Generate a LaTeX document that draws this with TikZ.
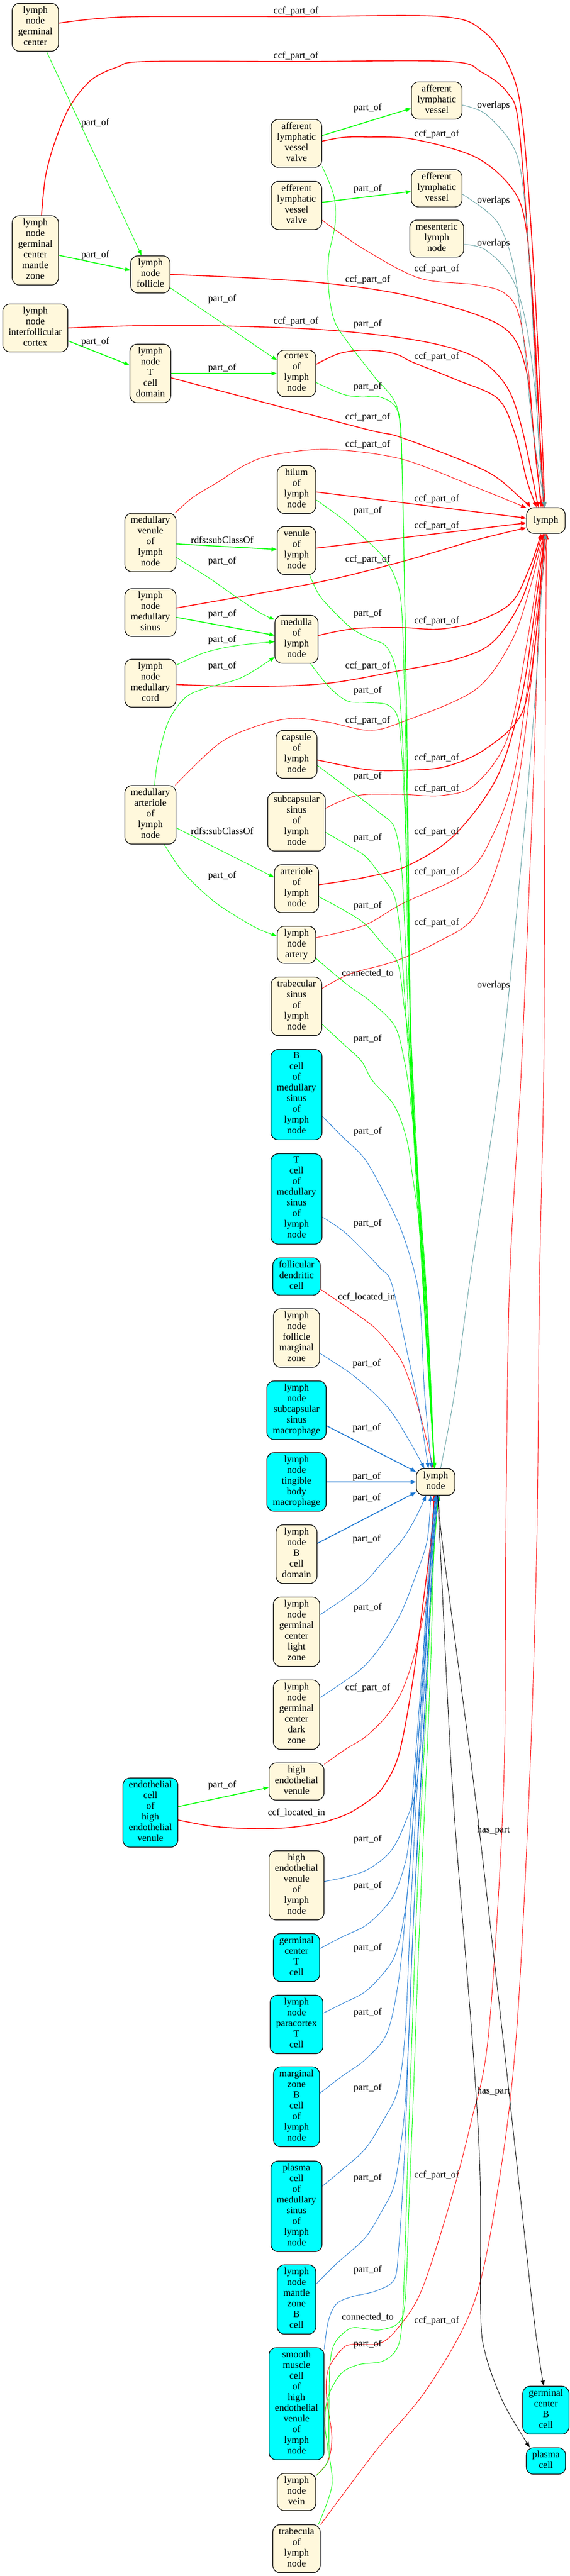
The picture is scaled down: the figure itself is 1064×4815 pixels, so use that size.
\documentclass[tikz,border=0pt]{standalone}
\usepackage{fontspec}
\setmainfont{Liberation Serif}
\usetikzlibrary{arrows.meta}
\newcommand\nodefnt{\fontsize{13.6}{15}\selectfont}
\definecolor{nbeige}{HTML}{FFF8DC}
\definecolor{ncyan}{HTML}{00FFFF}
\definecolor{ered}{HTML}{FF0000}
\definecolor{egreen}{HTML}{00FF00}
\definecolor{eblue}{HTML}{1E78D2}
\definecolor{eteal}{HTML}{5F9EA0}
\pgfdeclarelayer{bg}
\pgfsetlayers{bg,main}
\tikzset{
  box/.style={draw=black, line width=0.9pt, rounded corners=10pt, align=center, font=\nodefnt,
    inner xsep=8.25pt, inner ysep=4.1pt, minimum width=54pt, minimum height=36pt, fill=nbeige,
    execute at begin node=\strut, execute at end node=\strut},
  cbox/.style={box, fill=ncyan},
  lbl/.style={font=\nodefnt, inner sep=0pt},
  tipa/.style={-{Triangle[length=7.5pt,width=5.5pt]}},
  thk/.style={line width=1.2pt},
  rd/.style={draw=ered, line width=0.7pt, tipa},
  gn/.style={draw=egreen, line width=0.7pt, tipa},
  bl/.style={draw=eblue, line width=0.7pt, tipa},
  tl/.style={draw=eteal, line width=0.7pt, tipa},
  bk/.style={draw=black, line width=0.7pt, tipa},
  sm/.style={smooth, tension=0.55}
}
\begin{document}
\begin{tikzpicture}[x=0.75pt,y=0.75pt]
\useasboundingbox (0,0) rectangle (1064,-4815);
\begin{pgfonlayer}{bg}
\fill[white] (0,0) rectangle (1064,-4815);
\end{pgfonlayer}
% ---------- nodes ----------
\node[box] (gc) at (66,-51) {lymph\\node\\germinal\\center};
\node[box] (gcmz) at (66,-468) {lymph\\node\\germinal\\center\\mantle\\zone};
\node[box] (ific) at (66,-613) {lymph\\node\\interfollicular\\cortex};
\node[box] (foll) at (281,-513) {lymph\\node\\follicle};
\node[box] (tcd) at (281,-698) {lymph\\node\\T\\cell\\domain};
\node[box] (mven) at (281,-1014) {medullary\\venule\\of\\lymph\\node};
\node[box] (msin) at (281,-1145) {lymph\\node\\medullary\\sinus};
\node[box] (mcord) at (281,-1277) {lymph\\node\\medullary\\cord};
\node[box] (mart) at (281,-1523) {medullary\\arteriole\\of\\lymph\\node};
\node[cbox] (echev) at (281,-3388) {endothelial\\cell\\of\\high\\endothelial\\venule};
\node[box] (afv) at (554,-268) {afferent\\lymphatic\\vessel\\valve};
\node[box] (efv) at (554,-384) {efferent\\lymphatic\\vessel\\valve};
\node[box] (cortex) at (554,-698) {cortex\\of\\lymph\\node};
\node[box] (hilum) at (554,-915) {hilum\\of\\lymph\\node};
\node[box] (venule) at (554,-1029) {venule\\of\\lymph\\node};
\node[box] (medulla) at (554,-1195) {medulla\\of\\lymph\\node};
\node[box] (capsule) at (554,-1410) {capsule\\of\\lymph\\node};
\node[box] (scs) at (554,-1536) {subcapsular\\sinus\\of\\lymph\\node};
\node[box] (arteriole) at (554,-1661) {arteriole\\of\\lymph\\node};
\node[box] (artery) at (554,-1766) {lymph\\node\\artery};
\node[box] (trsin) at (554,-1881) {trabecular\\sinus\\of\\lymph\\node};
\node[cbox] (bcms) at (554,-2046) {B\\cell\\of\\medullary\\sinus\\of\\lymph\\node};
\node[cbox] (tcms) at (554,-2241) {T\\cell\\of\\medullary\\sinus\\of\\lymph\\node};
\node[cbox] (fdc) at (554,-2386) {follicular\\dendritic\\cell};
\node[box] (fmz) at (554,-2501) {lymph\\node\\follicle\\marginal\\zone};
\node[cbox] (ssm) at (554,-2636) {lymph\\node\\subcapsular\\sinus\\macrophage};
\node[cbox] (tbm) at (554,-2770) {lymph\\node\\tingible\\body\\macrophage};
\node[box] (bcd) at (554,-2905) {lymph\\node\\B\\cell\\domain};
\node[box] (gcl) at (554,-3050) {lymph\\node\\germinal\\center\\light\\zone};
\node[box] (gcd) at (554,-3205) {lymph\\node\\germinal\\center\\dark\\zone};
\node[box] (hev) at (554,-3330) {high\\endothelial\\venule};
\node[box] (hevln) at (554,-3524) {high\\endothelial\\venule\\of\\lymph\\node};
\node[cbox] (gct) at (554,-3659) {germinal\\center\\T\\cell};
\node[cbox] (pct) at (554,-3784) {lymph\\node\\paracortex\\T\\cell};
\node[cbox] (mzb) at (554,-3938) {marginal\\zone\\B\\cell\\of\\lymph\\node};
\node[cbox] (pcms) at (554,-4124) {plasma\\cell\\of\\medullary\\sinus\\of\\lymph\\node};
\node[cbox] (mzbc) at (554,-4298) {lymph\\node\\mantle\\zone\\B\\cell};
\node[cbox] (smc) at (554,-4493) {smooth\\muscle\\cell\\of\\high\\endothelial\\venule\\of\\lymph\\node};
\node[box] (vein) at (554,-4658) {lymph\\node\\vein};
\node[box] (trab) at (554,-4764) {trabecula\\of\\lymph\\node};
\node[box] (alv) at (816,-188) {afferent\\lymphatic\\vessel};
\node[box] (elv) at (816,-352) {efferent\\lymphatic\\vessel};
\node[box] (mes) at (816,-446) {mesenteric\\lymph\\node};
\node[box] (ln) at (814,-2770) {lymph\\node};
\node[box] (lymph) at (1020,-973) {lymph};
\node[cbox] (gcb) at (1020,-4505) {germinal\\center\\B\\cell};
\node[cbox] (pc) at (1020,-4600) {plasma\\cell};
% ---------- edges ----------
\begin{pgfonlayer}{bg}
% red ccf_part_of to lymph
\draw[rd,thk] plot[sm] coordinates {(gc.10) (180,-35) (273,-31) (553,-31) (825,-31) (905,-60) (955,-133) (977,-233) (997,-500) (1012,-800) (lymph.95)};
\draw[rd,thk] plot[sm] coordinates {(gcmz.80) (85,-330) (102,-267) (130,-200) (170,-150) (220,-125) (273,-115) (553,-115) (839,-115) (900,-135) (948,-173) (969,-233) (990,-500) (1008,-800) (lymph.97)};
\draw[rd,thk] plot[sm] coordinates {(afv.5) (640,-257) (682,-256) (771,-260) (887,-293) (955,-350) (982,-420) (998,-600) (1008,-800) (lymph.100)};
\draw[rd] plot[sm] coordinates {(efv.-30) (682,-467) (784,-520) (887,-532) (941,-547) (969,-587) (988,-700) (1000,-850) (lymph.105)};
\draw[rd,thk] plot[sm] coordinates {(foll.east) (477,-520) (614,-530) (750,-550) (887,-587) (955,-625) (985,-700) (998,-820) (lymph.110)};
\draw[rd,thk] plot[sm] coordinates {(ific.east) (250,-609) (409,-609) (614,-617) (784,-637) (887,-667) (945,-720) (975,-800) (lymph.120)};
\draw[rd,thk] plot[sm] coordinates {(cortex.25) (630,-662) (668,-655) (710,-656) (743,-663) (771,-677) (853,-710) (930,-745) (962,-810) (985,-900) (lymph.125)};
\draw[rd,thk] plot[sm] coordinates {(tcd.-12) (675,-800) (750,-818) (907,-880) (975,-933) (lymph.140)};
\draw[rd] plot[sm] coordinates {(mven.50) (360,-930) (409,-900) (460,-868) (512,-850) (614,-840) (750,-858) (887,-910) (lymph.147)};
\draw[rd,thk] (hilum) -- (lymph);
\draw[rd,thk] (venule) -- (lymph);
\draw[rd,thk] plot[sm] coordinates {(msin.10) (587,-1090) (750,-1050) (887,-1010) (lymph.200)};
\draw[rd,thk] plot[sm] coordinates {(medulla.10) (662,-1175) (750,-1173) (819,-1176) (887,-1163) (955,-1127) (990,-1060) (lymph.-110)};
\draw[rd,thk] plot[sm] coordinates {(mcord.-3) (477,-1283) (614,-1277) (750,-1253) (853,-1232) (921,-1200) (975,-1120) (lymph.-105)};
\draw[rd] plot[sm] coordinates {(mart.50) (409,-1390) (480,-1357) (546,-1343) (614,-1350) (689,-1365) (750,-1350) (887,-1290) (955,-1200) (990,-1100) (lymph.-100)};
\draw[rd,thk] plot[sm] coordinates {(capsule.-15) (682,-1438) (750,-1440) (832,-1433) (907,-1400) (975,-1333) (1000,-1200) (lymph.-95)};
\draw[rd] plot[sm] coordinates {(scs.25) (668,-1487) (750,-1485) (825,-1487) (887,-1467) (948,-1380) (985,-1200) (lymph.-100)};
\draw[rd,thk] plot[sm] coordinates {(arteriole.10) (682,-1640) (764,-1617) (850,-1560) (930,-1450) (975,-1300) (998,-1150) (lymph.-95)};
\draw[rd] plot[sm] coordinates {(artery.20) (680,-1730) (750,-1690) (873,-1630) (921,-1560) (960,-1450) (990,-1250) (lymph.-90)};
\draw[rd] plot[sm] coordinates {(trsin.35) (655,-1820) (737,-1797) (819,-1760) (887,-1713) (935,-1600) (970,-1450) (995,-1250) (lymph.-85)};
\draw[rd] plot[sm] coordinates {(vein.40) (613,-4600) (620,-4553) (610,-4480) (613,-4430) (637,-4393) (657,-4382) (710,-4380) (747,-4347) (788,-4280) (840,-4120) (880,-3967) (913,-3800) (941,-3340) (945,-2880) (952,-2400) (974,-2000) (995,-1500) (1005,-1200) (lymph.-100)};
\draw[rd] plot[sm] coordinates {(trab.45) (703,-4580) (800,-4462) (887,-4300) (934,-4067) (965,-3800) (989,-3340) (1003,-2880) (1008,-2400) (1016,-2000) (1018,-1500) (lymph.-88)};
% red to lymph node
\draw[rd] plot[sm] coordinates {(fdc.-28) (650,-2445) (698,-2480) (730,-2515) (753,-2550) (775,-2610) (791,-2667) (ln.100)};
\draw[rd] plot[sm] coordinates {(hev.32) (645,-3270) (682,-3247) (720,-3210) (750,-3163) (775,-3090) (798,-2980) (806,-2880) (ln.-97)};
\draw[rd,thk] plot[sm] coordinates {(echev.-15) (400,-3414) (477,-3418) (540,-3416) (600,-3407) (650,-3390) (690,-3365) (716,-3340) (745,-3280) (770,-3150) (790,-3000) (805,-2880) (ln.-95)};
% green part_of
\draw[gn,thk] (afv) -- (alv);
\draw[gn,thk] (efv) -- (elv);
\draw[gn] (gc) -- (foll);
\draw[gn,thk] (gcmz) -- (foll);
\draw[gn] (foll) -- (cortex);
\draw[gn,thk] (ific) -- (tcd);
\draw[gn,thk] (tcd) -- (cortex);
\draw[gn,thk] (mven) -- (venule);
\draw[gn] plot[sm] coordinates {(mven.-30) (390,-1080) (443,-1117) (485,-1145) (medulla.138)};
\draw[gn,thk] (msin) -- (medulla);
\draw[gn] plot[sm] coordinates {(mcord.35) (382,-1220) (440,-1207) (medulla.186)};
\draw[gn] plot[sm] coordinates {(mart.82) (295,-1420) (314,-1350) (345,-1305) (382,-1287) (443,-1270) (480,-1250) (medulla.219)};
\draw[gn] (mart) -- (arteriole);
\draw[gn] plot[sm] coordinates {(mart.-65) (334,-1620) (361,-1650) (400,-1685) (437,-1710) (480,-1735) (artery.156)};
\draw[gn,thk] (echev) -- (hev);
% green to lymph node (top)
\draw[gn] plot[sm] coordinates {(afv.-42) (624,-367) (626,-420) (614,-480) (614,-540) (625,-600) (655,-647) (700,-705) (743,-765) (752,-900) (760,-1400) (768,-2000) (790,-2400) (ln.95)};
\draw[gn] plot[sm] coordinates {(cortex.-25) (641,-737) (675,-742) (709,-742) (740,-762) (749,-820) (754,-1000) (761,-1400) (769,-2000) (790,-2400) (ln.95)};
\draw[gn] plot[sm] coordinates {(hilum.-28) (640,-970) (682,-1007) (715,-1040) (737,-1077) (750,-1133) (756,-1300) (762,-1600) (770,-2000) (791,-2400) (ln.95)};
\draw[gn] plot[sm] coordinates {(venule.-62) (595,-1110) (614,-1133) (655,-1173) (690,-1193) (723,-1210) (743,-1267) (753,-1400) (760,-1600) (770,-2000) (791,-2400) (ln.95)};
\draw[gn] plot[sm] coordinates {(medulla.-60) (614,-1283) (648,-1310) (682,-1313) (723,-1317) (743,-1340) (750,-1400) (757,-1533) (763,-1800) (771,-2000) (792,-2400) (ln.95)};
\draw[gn] plot[sm] coordinates {(capsule.-28) (632,-1460) (675,-1493) (710,-1520) (737,-1547) (750,-1620) (757,-1750) (765,-1950) (772,-2100) (793,-2400) (ln.95)};
\draw[gn] plot[sm] coordinates {(scs.-20) (650,-1580) (682,-1600) (709,-1633) (735,-1670) (745,-1720) (752,-1800) (762,-1950) (773,-2100) (794,-2400) (ln.95)};
\draw[gn] plot[sm] coordinates {(arteriole.-20) (640,-1700) (682,-1727) (715,-1765) (743,-1800) (755,-1880) (764,-1950) (774,-2100) (795,-2400) (ln.95)};
\draw[gn] plot[sm] coordinates {(artery.-35) (648,-1840) (690,-1870) (737,-1917) (755,-1980) (766,-2050) (776,-2150) (796,-2400) (ln.95)};
\draw[gn] plot[sm] coordinates {(trsin.-35) (640,-1950) (675,-1983) (696,-2020) (737,-2067) (760,-2130) (771,-2200) (785,-2300) (798,-2450) (ln.95)};
% green to lymph node (bottom)
\draw[gn] plot[sm] coordinates {(vein.40) (613,-4597) (607,-4530) (613,-4480) (637,-4437) (670,-4420) (716,-4413) (743,-4387) (752,-4330) (757,-4200) (763,-4000) (770,-3800) (777,-3600) (786,-3400) (796,-3200) (805,-3000) (812,-2880) (ln.-78)};
\draw[gn] plot[sm] coordinates {(trab.48) (620,-4647) (615,-4580) (615,-4480) (617,-4413) (627,-4377) (655,-4352) (685,-4353) (709,-4355) (743,-4343) (757,-4300) (765,-4100) (773,-3900) (780,-3700) (788,-3500) (797,-3300) (805,-3100) (811,-2900) (ln.-76)};
% blue part_of to lymph node
\draw[bl] plot[sm] coordinates {(bcms.-40) (640,-2125) (682,-2167) (720,-2235) (750,-2300) (775,-2380) (786,-2450) (793,-2600) (ln.106)};
\draw[bl] plot[sm] coordinates {(tcms.-35) (640,-2300) (675,-2333) (710,-2370) (732,-2400) (762,-2533) (783,-2633) (ln.118)};
\draw[bl] plot[sm] coordinates {(fmz.-33) (625,-2547) (655,-2567) (700,-2605) (732,-2640) (760,-2685) (780,-2720) (ln.130)};
\draw[bl,thk] (ssm) -- (ln);
\draw[bl,thk] (tbm) -- (ln);
\draw[bl,thk] (bcd) -- (ln);
\draw[bl] plot[sm] coordinates {(gcl.36) (640,-2990) (682,-2957) (715,-2920) (750,-2880) (775,-2840) (ln.-125)};
\draw[bl] plot[sm] coordinates {(gcd.36) (640,-3145) (682,-3113) (720,-3065) (750,-3013) (775,-2950) (798,-2880) (ln.-110)};
\draw[bl] plot[sm] coordinates {(hevln.8) (640,-3510) (682,-3497) (715,-3475) (737,-3450) (757,-3407) (778,-3340) (790,-3200) (800,-3000) (807,-2880) (ln.-92)};
\draw[bl] plot[sm] coordinates {(gct.21) (640,-3620) (682,-3600) (715,-3570) (737,-3540) (755,-3490) (764,-3440) (775,-3300) (790,-3100) (803,-2900) (ln.-90)};
\draw[bl] plot[sm] coordinates {(pct.23) (640,-3745) (682,-3723) (715,-3690) (737,-3657) (752,-3600) (765,-3500) (778,-3300) (793,-3100) (805,-2900) (ln.-88)};
\draw[bl] plot[sm] coordinates {(mzb.30) (640,-3880) (682,-3850) (723,-3800) (745,-3700) (760,-3550) (772,-3400) (785,-3200) (798,-3000) (808,-2880) (ln.-86)};
\draw[bl] plot[sm] coordinates {(pcms.38) (640,-4055) (682,-4017) (715,-3965) (743,-3907) (757,-3800) (766,-3600) (776,-3400) (788,-3200) (800,-3000) (809,-2880) (ln.-84)};
\draw[bl] plot[sm] coordinates {(mzbc.38) (630,-4230) (682,-4183) (715,-4130) (737,-4083) (750,-4000) (757,-3933) (764,-3800) (772,-3600) (782,-3400) (793,-3200) (803,-3000) (810,-2880) (ln.-82)};
\draw[bl] plot[sm] coordinates {(smc.63) (613,-4340) (628,-4307) (657,-4293) (703,-4282) (737,-4260) (745,-4200) (750,-4133) (757,-4000) (764,-3800) (772,-3600) (783,-3400) (794,-3200) (804,-3000) (811,-2880) (ln.-80)};
% teal overlaps
\draw[tl] plot[sm] coordinates {(alv.-10) (907,-213) (955,-267) (975,-333) (990,-500) (1000,-700) (1008,-850) (lymph.93)};
\draw[tl] plot[sm] coordinates {(elv.-13) (907,-393) (935,-425) (960,-500) (980,-650) (995,-800) (lymph.94)};
\draw[tl] plot[sm] coordinates {(mes.-12) (907,-467) (955,-517) (982,-600) (1000,-733) (1010,-870) (lymph.96)};
\draw[tl] plot[sm] coordinates {(ln.70) (850,-2600) (877,-2400) (935,-2000) (975,-1600) (1000,-1300) (1012,-1100) (lymph.-92)};
% black has_part
\draw[bk] plot[sm] coordinates {(ln.-82) (822,-2880) (846,-3350) (883,-3820) (897,-4067) (898,-4320) (907,-4400) (940,-4490) (pc.140)};
\draw[bk] plot[sm] coordinates {(ln.-75) (826,-2880) (887,-3350) (941,-3820) (996,-4320) (gcb.95)};
\end{pgfonlayer}
% ---------- labels ----------
\node[lbl] (c1) at (553,-21) {ccf\_part\_of};
\node[lbl] (c2) at (553,-105) {ccf\_part\_of};
\node[lbl] (c3) at (816,-251) {ccf\_part\_of};
\node[lbl] (c4) at (816,-503) {ccf\_part\_of};
\node[lbl] (c5) at (687,-523) {ccf\_part\_of};
\node[lbl] (c6) at (553,-601) {ccf\_part\_of};
\node[lbl] (c7) at (816,-667) {ccf\_part\_of};
\node[lbl] (c8) at (687,-780) {ccf\_part\_of};
\node[lbl] (c9) at (687,-831) {ccf\_part\_of};
\node[lbl] (c10) at (816,-933) {ccf\_part\_of};
\node[lbl] (c11) at (816,-983) {ccf\_part\_of};
\node[lbl] (c12) at (687,-1046) {ccf\_part\_of};
\node[lbl] (c13) at (816,-1161) {ccf\_part\_of};
\node[lbl] (c14) at (687,-1245) {ccf\_part\_of};
\node[lbl] (c15) at (687,-1347) {ccf\_part\_of};
\node[lbl] (c16) at (816,-1417) {ccf\_part\_of};
\node[lbl] (c17) at (816,-1474) {ccf\_part\_of};
\node[lbl] (c18) at (816,-1555) {ccf\_part\_of};
\node[lbl] (c19) at (816,-1630) {ccf\_part\_of};
\node[lbl] (c20) at (816,-1725) {ccf\_part\_of};
\node[lbl] (c21) at (687,-3155) {ccf\_part\_of};
\node[lbl] (c22) at (816,-4066) {ccf\_part\_of};
\node[lbl] (c23) at (816,-4338) {ccf\_part\_of};
\node[lbl] (p1) at (178,-230) {part\_of};
\node[lbl] (p2) at (687,-202) {part\_of};
\node[lbl] (p3) at (687,-353) {part\_of};
\node[lbl] (p4) at (178,-477) {part\_of};
\node[lbl] (p5) at (415,-559) {part\_of};
\node[lbl] (p6) at (687,-606) {part\_of};
\node[lbl] (p7) at (178,-639) {part\_of};
\node[lbl] (p8) at (415,-688) {part\_of};
\node[lbl] (p9) at (687,-723) {part\_of};
\node[lbl] (p10) at (687,-955) {part\_of};
\node[lbl] (p11) at (415,-1049) {part\_of};
\node[lbl] (p12) at (415,-1148) {part\_of};
\node[lbl] (p13) at (687,-1147) {part\_of};
\node[lbl] (p14) at (415,-1196) {part\_of};
\node[lbl] (p15) at (415,-1245) {part\_of};
\node[lbl] (p16) at (687,-1291) {part\_of};
\node[lbl] (p17) at (687,-1451) {part\_of};
\node[lbl] (p18) at (687,-1566) {part\_of};
\node[lbl] (p19) at (415,-1637) {part\_of};
\node[lbl] (p20) at (687,-1693) {part\_of};
\node[lbl] (p21) at (687,-1942) {part\_of};
\node[lbl] (p22) at (687,-2115) {part\_of};
\node[lbl] (p23) at (687,-2287) {part\_of};
\node[lbl] (p24) at (685,-2549) {part\_of};
\node[lbl] (p25) at (685,-2669) {part\_of};
\node[lbl] (p26) at (685,-2760) {part\_of};
\node[lbl] (p27) at (685,-2800) {part\_of};
\node[lbl] (p28) at (685,-2877) {part\_of};
\node[lbl] (p29) at (687,-3005) {part\_of};
\node[lbl] (p30) at (415,-3337) {part\_of};
\node[lbl] (p31) at (687,-3438) {part\_of};
\node[lbl] (p32) at (687,-3525) {part\_of};
\node[lbl] (p33) at (687,-3641) {part\_of};
\node[lbl] (p34) at (687,-3762) {part\_of};
\node[lbl] (p35) at (687,-3903) {part\_of};
\node[lbl] (p36) at (687,-4071) {part\_of};
\node[lbl] (p37) at (687,-4243) {part\_of};
\node[lbl] (p38) at (687,-4382) {part\_of};
\node[lbl] (o1) at (922,-197) {overlaps};
\node[lbl] (o2) at (922,-375) {overlaps};
\node[lbl] (o3) at (922,-455) {overlaps};
\node[lbl] (o4) at (922,-1842) {overlaps};
\node[lbl] (s1) at (415,-1009) {rdfs:subClassOf};
\node[lbl] (s2) at (415,-1553) {rdfs:subClassOf};
\node[lbl] (k1) at (687,-1819) {connected\_to};
\node[lbl] (k2) at (687,-4331) {connected\_to};
\node[lbl] (i1) at (685,-2424) {ccf\_located\_in};
\node[lbl] (i2) at (554,-3388) {ccf\_located\_in};
\node[lbl] (h1) at (922,-3421) {has\_part};
\node[lbl] (h2) at (922,-3909) {has\_part};
\end{tikzpicture}
\end{document}
